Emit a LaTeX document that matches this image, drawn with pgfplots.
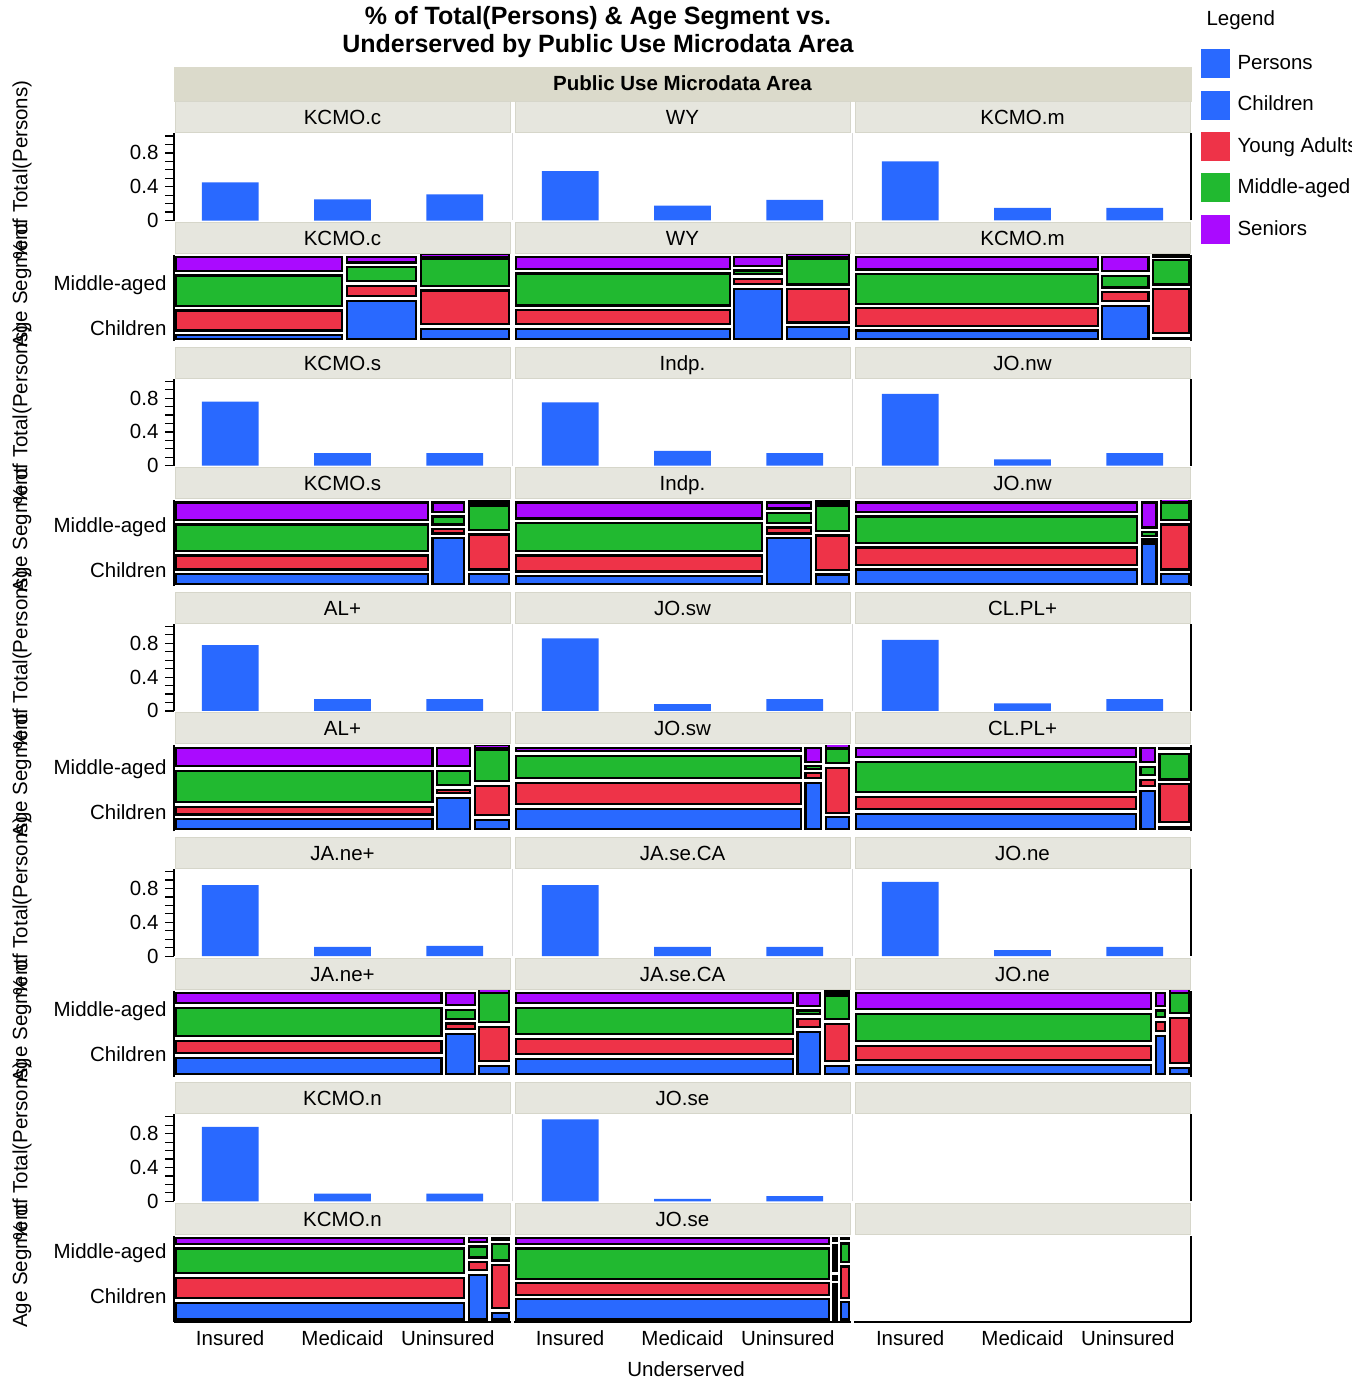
\documentclass[border=0pt]{standalone}
\usepackage{pgfplots}
\pgfplotsset{compat=1.18}
\usepackage{fontspec}
\setmainfont{Liberation Sans}
\definecolor{cblue}{RGB}{41,105,255}
\definecolor{cred}{RGB}{238,51,72}
\definecolor{cgreen}{RGB}{33,185,48}
\definecolor{cpurple}{RGB}{170,10,255}
\definecolor{stripfill}{RGB}{230,230,222}
\definecolor{stripline}{RGB}{214,214,202}
\definecolor{headfill}{RGB}{219,218,203}
\newcommand{\fs}{\fontsize{20.5}{24}\selectfont}
\newcommand{\gx}{0.0068}
\newcommand{\gy}{0.0267}
\newcommand{\cell}[5]{%
 \pgfmathsetmacro\xa{#1+\gx}\pgfmathsetmacro\xb{#2-\gx}%
 \pgfmathsetmacro\ya{#3+\gy}\pgfmathsetmacro\yb{#4-\gy}%
 \edef\tmp{\noexpand\addplot[fill=#5,draw=black,line width=2.3pt] coordinates {(\xa,\ya) (\xb,\ya) (\xb,\yb) (\xa,\yb)} --cycle;}\tmp}
\newcommand{\mcol}[5]{\cell{#1}{#2}{0}{#3}{cblue}\cell{#1}{#2}{#3}{#4}{cred}\cell{#1}{#2}{#4}{#5}{cgreen}\cell{#1}{#2}{#5}{1}{cpurple}}
\newcommand{\bars}[3]{\addplot[ybar,bar width=0.505,fill=cblue,draw=none] coordinates {(0,#1) (1,#2) (2,#3)};}
\newcommand{\strip}[3]{%
 \filldraw[fill=stripfill,draw=stripline,line width=1pt] (#1+1,-#2) rectangle (#1+336,-#2-31);
 \node[font=\fs,anchor=base] at (#1+168.5,-#2-23) {#3};}
\pgfplotsset{
 bar/.style={scale only axis,width=337pt,height=87pt,xmin=-0.5,xmax=2.5,ymin=0,ymax=1.03},
 barM/.style={bar,axis x line=none,axis y line=none},
 barL/.style={bar,axis x line=none,axis y line*=left,y axis line style={line width=1.4pt},ytick={0,0.4,0.8},minor ytick={0.1,0.2,0.3,0.5,0.6,0.7,0.9,1.0},tick align=outside,major tick length=9pt,minor tick length=9pt,tick style={black,line width=1.2pt},yticklabel style={font=\fs,xshift=-3pt},/pgf/number format/assume math mode=true},
 barR/.style={bar,axis x line=none,axis y line*=right,ytick=\empty,y axis line style={line width=1.6pt}},
 mos/.style={scale only axis,width=337pt,height=86pt,xmin=0,xmax=1,ymin=0,ymax=1},
 yL/.style={axis y line*=left,ytick={#1},yticklabels={Children,Middle-aged},major tick length=0pt,yticklabel style={font=\fs,xshift=-4pt},y axis line style={line width=1.6pt}},
 yR/.style={axis y line*=right,ytick=\empty,y axis line style={line width=1.6pt}},
 yN/.style={axis y line=none},
 xN/.style={axis x line=none},
 xB/.style={axis x line*=bottom,xtick={0.1667,0.5,0.8125},xticklabels={Insured,Medicaid,Uninsured},major tick length=0pt,xticklabel style={font=\fs,yshift=-5pt},x axis line style={line width=1.6pt}},
}
\begin{document}
\begin{tikzpicture}[x=1pt,y=1pt]
\useasboundingbox (0,0) rectangle (1369,-1380);
% title
\node[font=\bfseries\fontsize{25}{27.5}\selectfont,align=center] at (598,-32) {\% of Total(Persons) \& Age Segment vs.\\Underserved by Public Use Microdata Area};
% header
\filldraw[fill=headfill,draw=headfill] (174,-67) rectangle (1191,-101);
\node[font=\bfseries\fs,anchor=base] at (682.5,-91) {Public Use Microdata Area};
% legend
\begin{scope}
\clip (1180,0) rectangle (1351,-260);
\node[font=\fs,anchor=base west] at (1203,-26) {Legend};
\fill[cblue] (1201,-49.3) rectangle (1230,-78.3);
\node[font=\fs,anchor=base west] at (1234,-69.5) {Persons};
\fill[cblue] (1201,-90.7) rectangle (1230,-119.7);
\node[font=\fs,anchor=base west] at (1234,-110.9) {Children};
\fill[cred] (1201,-132.1) rectangle (1230,-161.1);
\node[font=\fs,anchor=base west] at (1234,-152.3) {Young Adults};
\fill[cgreen] (1201,-173.5) rectangle (1230,-202.5);
\node[font=\fs,anchor=base west] at (1234,-193.7) {Middle-aged};
\fill[cpurple] (1201,-214.9) rectangle (1230,-243.9);
\node[font=\fs,anchor=base west] at (1234,-235.1) {Seniors};
\end{scope}
% left labels
\foreach \r in {0,1,2,3,4}{
 \node[font=\fs,rotate=90] at (22,-170-245.2*\r) {\% of Total(Persons)};
 \node[font=\fs,rotate=90] at (22,-285-245.2*\r) {Age Segment};
 \draw[black!15,line width=1pt] (512.5,-133.5-245.2*\r) -- (512.5,-220.5-245.2*\r);
 \draw[black!15,line width=1pt] (852.5,-133.5-245.2*\r) -- (852.5,-220.5-245.2*\r);
}
\node[font=\fs,anchor=base] at (686,-1376) {Underserved};
% strips
\strip{174}{102}{KCMO.c}\strip{514}{102}{WY}\strip{854}{102}{KCMO.m}
\strip{174}{222.5}{KCMO.c}\strip{514}{222.5}{WY}\strip{854}{222.5}{KCMO.m}
\strip{174}{347.2}{KCMO.s}\strip{514}{347.2}{Indp.}\strip{854}{347.2}{JO.nw}
\strip{174}{467.7}{KCMO.s}\strip{514}{467.7}{Indp.}\strip{854}{467.7}{JO.nw}
\strip{174}{592.4}{AL+}\strip{514}{592.4}{JO.sw}\strip{854}{592.4}{CL.PL+}
\strip{174}{712.9}{AL+}\strip{514}{712.9}{JO.sw}\strip{854}{712.9}{CL.PL+}
\strip{174}{837.6}{JA.ne+}\strip{514}{837.6}{JA.se.CA}\strip{854}{837.6}{JO.ne}
\strip{174}{958.1}{JA.ne+}\strip{514}{958.1}{JA.se.CA}\strip{854}{958.1}{JO.ne}
\strip{174}{1082.8}{KCMO.n}\strip{514}{1082.8}{JO.se}\strip{854}{1082.8}{}
\strip{174}{1203.3}{KCMO.n}\strip{514}{1203.3}{JO.se}\strip{854}{1203.3}{}
% ---------- row 1
\begin{axis}[barL,at={(174pt,-220.5pt)},anchor=south west]\bars{0.451}{0.249}{0.308}\end{axis}
\begin{axis}[barM,at={(514pt,-220.5pt)},anchor=south west]\bars{0.585}{0.175}{0.245}\end{axis}
\begin{axis}[barR,at={(854pt,-220.5pt)},anchor=south west]\bars{0.70}{0.15}{0.15}\end{axis}
\begin{axis}[mos,xN,yL={0.151,0.651},at={(174pt,-341pt)},anchor=south west]
\mcol{0}{0.506}{0.094}{0.38}{0.79}\mcol{0.506}{0.7255}{0.495}{0.67}{0.885}\mcol{0.7255}{1}{0.17}{0.614}{0.985}
\end{axis}
\begin{axis}[mos,xN,yN,at={(514pt,-341pt)},anchor=south west]
\mcol{0}{0.647}{0.167}{0.386}{0.81}\mcol{0.647}{0.803}{0.634}{0.749}{0.845}\mcol{0.803}{1}{0.19}{0.63}{0.985}
\end{axis}
\begin{axis}[mos,xN,yR,at={(854pt,-341pt)},anchor=south west]
\mcol{0}{0.73}{0.15}{0.407}{0.805}\mcol{0.73}{0.881}{0.435}{0.594}{0.786}\mcol{0.881}{1}{0.064}{0.63}{0.97}
\end{axis}
% ---------- row 2
\begin{axis}[barL,at={(174pt,-465.7pt)},anchor=south west]\bars{0.76}{0.15}{0.15}\end{axis}
\begin{axis}[barM,at={(514pt,-465.7pt)},anchor=south west]\bars{0.75}{0.175}{0.15}\end{axis}
\begin{axis}[barR,at={(854pt,-465.7pt)},anchor=south west]\bars{0.85}{0.075}{0.15}\end{axis}
\begin{axis}[mos,xN,yL={0.188,0.688},at={(174pt,-586.2pt)},anchor=south west]
\mcol{0}{0.76}{0.169}{0.384}{0.744}\mcol{0.76}{0.868}{0.587}{0.692}{0.837}\mcol{0.868}{1}{0.169}{0.628}{0.965}
\end{axis}
\begin{axis}[mos,xN,yN,at={(514pt,-586.2pt)},anchor=south west]
\mcol{0}{0.743}{0.145}{0.384}{0.76}\mcol{0.743}{0.889}{0.587}{0.709}{0.878}\mcol{0.889}{1}{0.163}{0.616}{0.965}
\end{axis}
\begin{axis}[mos,xN,yR,at={(854pt,-586.2pt)},anchor=south west]
\mcol{0}{0.847}{0.221}{0.477}{0.837}\mcol{0.847}{0.904}{0.523}{0.558}{0.657}\mcol{0.904}{1}{0.169}{0.744}{0.995}
\end{axis}
% ---------- row 3
\begin{axis}[barL,at={(174pt,-710.9pt)},anchor=south west]\bars{0.78}{0.14}{0.14}\end{axis}
\begin{axis}[barM,at={(514pt,-710.9pt)},anchor=south west]\bars{0.86}{0.08}{0.14}\end{axis}
\begin{axis}[barR,at={(854pt,-710.9pt)},anchor=south west]\bars{0.84}{0.09}{0.14}\end{axis}
\begin{axis}[mos,xN,yL={0.226,0.726},at={(174pt,-831.4pt)},anchor=south west]
\mcol{0}{0.774}{0.169}{0.314}{0.733}\mcol{0.774}{0.886}{0.419}{0.512}{0.733}\mcol{0.886}{1}{0.163}{0.558}{0.98}
\end{axis}
\begin{axis}[mos,xN,yN,at={(514pt,-831.4pt)},anchor=south west]
\mcol{0}{0.858}{0.291}{0.593}{0.907}\mcol{0.858}{0.918}{0.593}{0.703}{0.784}\mcol{0.918}{1}{0.191}{0.767}{0.99}
\end{axis}
\begin{axis}[mos,xN,yR,at={(854pt,-831.4pt)},anchor=south west]
\mcol{0}{0.843}{0.233}{0.43}{0.837}\mcol{0.843}{0.9}{0.5}{0.628}{0.779}\mcol{0.9}{1}{0.081}{0.576}{0.93}
\end{axis}
% ---------- row 4
\begin{axis}[barL,at={(174pt,-956.1pt)},anchor=south west]\bars{0.84}{0.11}{0.12}\end{axis}
\begin{axis}[barM,at={(514pt,-956.1pt)},anchor=south west]\bars{0.84}{0.11}{0.11}\end{axis}
\begin{axis}[barR,at={(854pt,-956.1pt)},anchor=south west]\bars{0.88}{0.07}{0.11}\end{axis}
\begin{axis}[mos,xN,yL={0.263,0.763},at={(174pt,-1076.6pt)},anchor=south west]
\mcol{0}{0.801}{0.244}{0.442}{0.826}\mcol{0.801}{0.899}{0.523}{0.645}{0.802}\mcol{0.899}{1}{0.151}{0.605}{0.995}
\end{axis}
\begin{axis}[mos,xN,yN,at={(514pt,-1076.6pt)},anchor=south west]
\mcol{0}{0.834}{0.233}{0.465}{0.826}\mcol{0.834}{0.915}{0.547}{0.698}{0.797}\mcol{0.915}{1}{0.151}{0.64}{0.97}
\end{axis}
\begin{axis}[mos,xN,yR,at={(854pt,-1076.6pt)},anchor=south west]
\mcol{0}{0.889}{0.163}{0.384}{0.756}\mcol{0.889}{0.93}{0.5}{0.663}{0.797}\mcol{0.93}{1}{0.128}{0.709}{0.995}
\end{axis}
% ---------- row 5
\begin{axis}[barL,at={(174pt,-1201.3pt)},anchor=south west]\bars{0.88}{0.09}{0.09}\end{axis}
\begin{axis}[barM,at={(514pt,-1201.3pt)},anchor=south west]\bars{0.97}{0.03}{0.06}\end{axis}
\begin{axis}[barR,at={(854pt,-1201.3pt)},anchor=south west]\end{axis}
\begin{axis}[mos,xB,yL={0.30,0.80},at={(174pt,-1321.8pt)},anchor=south west]
\mcol{0}{0.868}{0.249}{0.538}{0.879}\mcol{0.868}{0.936}{0.572}{0.722}{0.902}\mcol{0.936}{1}{0.133}{0.688}{0.93}
\end{axis}
\begin{axis}[mos,xB,yN,at={(514pt,-1321.8pt)},anchor=south west]
\mcol{0}{0.941}{0.289}{0.474}{0.879}\mcol{0.941}{0.964}{0.462}{0.561}{0.913}\mcol{0.964}{1}{0.254}{0.67}{0.936}
\end{axis}
\begin{axis}[mos,xB,yR,at={(854pt,-1321.8pt)},anchor=south west]\end{axis}
\end{tikzpicture}
\end{document}
